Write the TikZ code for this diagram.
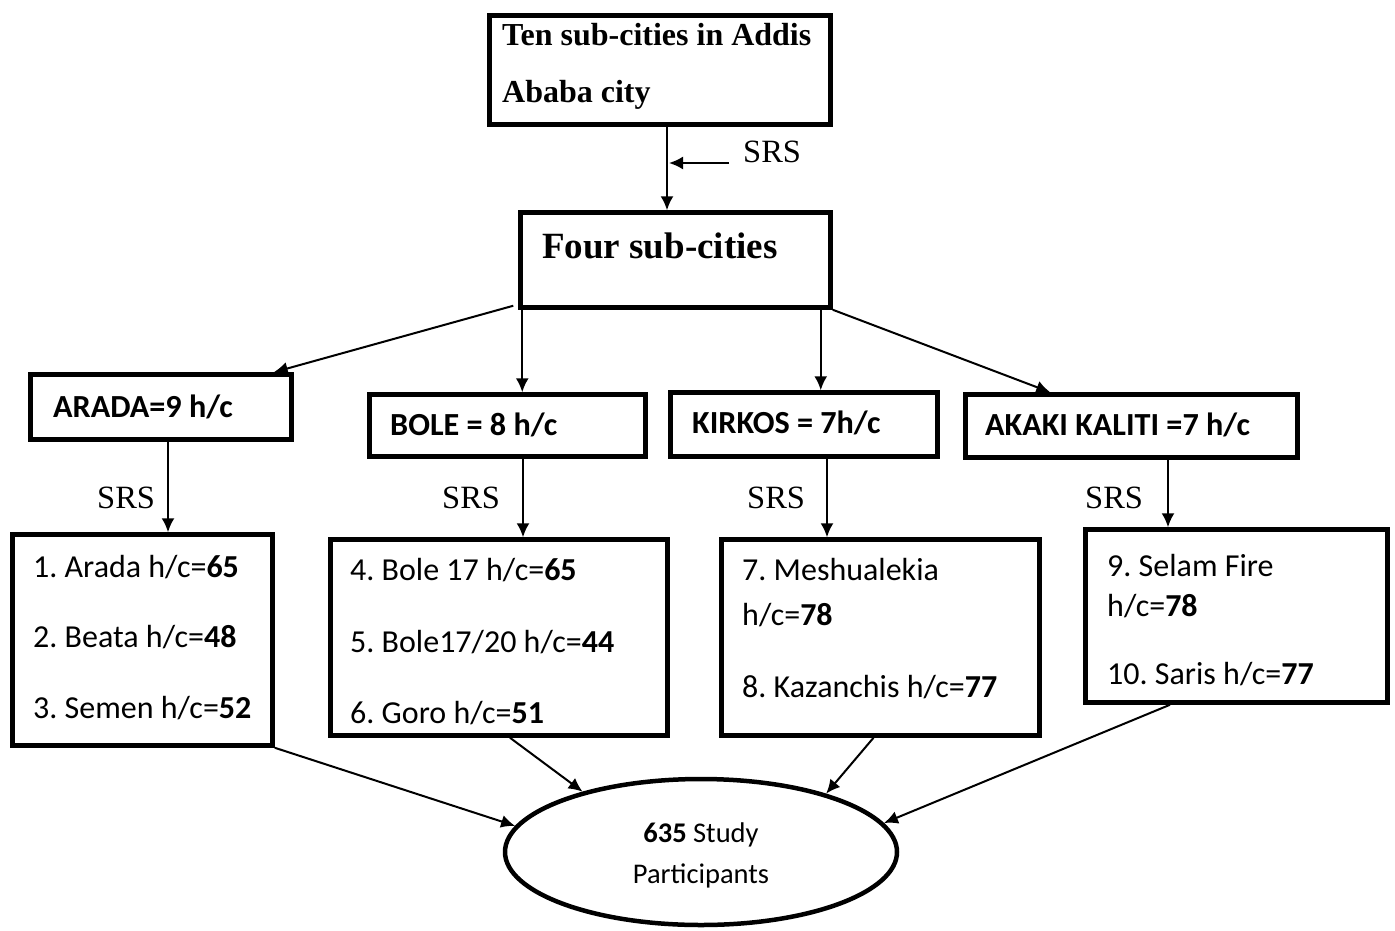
\documentclass[tikz,border=0pt]{standalone}
\usepackage{fontspec}
\setmainfont{Liberation Serif}
\newfontfamily\calfont{Carlito}
\usepackage{tikz}
\usetikzlibrary{shapes, arrows.meta}
\frenchspacing
\tikzstyle{bbox} = [rectangle, draw, line width=4.5pt, inner sep=0pt]
\tikzstyle{line} = [draw, line width=2pt, -{Latex[length=14pt,width=13pt]}]
\tikzstyle{ttext} = [anchor=base west, inner sep=0pt, font=\fontsize{32}{38}\selectfont\bfseries]
\tikzstyle{ftext} = [anchor=base west, inner sep=0pt, font=\fontsize{37}{44}\selectfont\bfseries]
\tikzstyle{srs} = [anchor=base west, inner sep=0pt, font=\fontsize{32.5}{38}\selectfont]
\tikzstyle{htext} = [anchor=base west, inner sep=0pt, font=\calfont\fontsize{32.2}{38}\selectfont\bfseries]
\tikzstyle{itext} = [anchor=base west, inner sep=0pt, font=\calfont\fontsize{32}{38}\selectfont]
\tikzstyle{etext} = [anchor=base, inner sep=0pt, font=\calfont\fontsize{28.5}{34}\selectfont]

\begin{document}
\begin{tikzpicture}[x=1pt, y=-1pt]
			\useasboundingbox (0,0) rectangle (1395,930);

			% top levels
			\node [bbox, minimum width=341, minimum height=109] (ten) at (660,70) {};
			\node [ttext] (ten1) at (502,45) {Ten sub-cities in Addis};
			\node [ttext] (ten2) at (502,102) {Ababa city};
			\node [bbox, minimum width=310, minimum height=95] (four) at (675.5,260) {};
			\node [ftext] (four1) at (542,258) {Four sub-cities};
			\node [srs] (srs0) at (743,162) {SRS};
			\coordinate (srsH) at (669,163);

			% sub-cities
			\node [bbox, minimum width=261, minimum height=65] (arada) at (161,407) {};
			\node [bbox, minimum width=276, minimum height=62] (bole) at (507.5,425.5) {};
			\node [bbox, minimum width=267, minimum height=64] (kirkos) at (804,424.5) {};
			\node [bbox, minimum width=332, minimum height=63] (akaki) at (1131.5,426) {};
			\node [htext] (arada1) at (53,417) {ARADA=9 h/c};
			\node [htext] (bole1) at (390,435) {BOLE = 8 h/c};
			\node [htext] (kirkos1) at (692,433) {KIRKOS = 7h/c};
			\node [htext] (akaki1) at (985,435) {AKAKI KALITI =7 h/c};
			\node [srs] (srs1) at (97,508) {SRS};
			\node [srs] (srs2) at (442,508) {SRS};
			\node [srs] (srs3) at (747,508) {SRS};
			\node [srs] (srs4) at (1085,508) {SRS};

			% health centres
			\node [bbox, minimum width=260, minimum height=211] (aradaL) at (142.5,640) {};
			\node [bbox, minimum width=337, minimum height=196] (boleL) at (499,637.5) {};
			\node [bbox, minimum width=318, minimum height=196] (kirkosL) at (880.5,637.5) {};
			\node [bbox, minimum width=302, minimum height=173] (akakiL) at (1236.5,616) {};
			\node [itext] (a1) at (33,577) {1. Arada h/c=\textbf{65}};
			\node [itext] (a2) at (33,647) {2. Beata h/c=\textbf{48}};
			\node [itext] (a3) at (33,718) {3. Semen h/c=\textbf{52}};
			\node [itext] (b1) at (350,580) {4. Bole 17 h/c=\textbf{65}};
			\node [itext] (b2) at (350,652) {5. Bole17/20 h/c=\textbf{44}};
			\node [itext] (b3) at (350,723) {6. Goro h/c=\textbf{51}};
			\node [itext] (k1) at (742,580) {7. Meshualekia};
			\node [itext] (k2) at (742,625) {h/c=\textbf{78}};
			\node [itext] (k3) at (742,697) {8. Kazanchis h/c=\textbf{77}};
			\node [itext] (s1) at (1107,576) {9. Selam Fire};
			\node [itext] (s2) at (1107,616) {h/c=\textbf{78}};
			\node [itext] (s3) at (1107,684) {10. Saris h/c=\textbf{77}};

			% participants
			\node [ellipse, draw, line width=4.5pt, minimum width=392, minimum height=146, inner sep=0pt] (part) at (701,852) {};
			\node [etext] (p1) at (701,842) {\textbf{635} Study};
			\node [etext] (p2) at (701,883) {Participants};

			\path [line] ([xshift=7]ten.south) -- ([xshift=-8.5]four.north);
			\path [line] ([xshift=-14,yshift=-1]srs0.base west) -- (srsH);
			\path [line] ([xshift=-5,yshift=4]four.south west) -- ([xshift=-20]arada.north east);
			\path [line] ([xshift=4]four.south west) -- ([xshift=4]four.south west |- bole.north);
			\path [line] ([xshift=-12]four.south east) -- ([xshift=-12]four.south east |- kirkos.north);
			\path [line] (four.south east) -- ([xshift=87]akaki.north west);
			\path [line] ([xshift=7]arada.south) -- ([xshift=7]arada.south |- aradaL.north);
			\path [line] ([xshift=15.5]bole.south) -- ([xshift=15.5]bole.south |- boleL.north);
			\path [line] ([xshift=23]kirkos.south) -- ([xshift=23]kirkos.south |- kirkosL.north);
			\path [line] ([xshift=36.5]akaki.south) -- ([xshift=36.5]akaki.south |- akakiL.north);
			\path [line] (aradaL.south east) -- (part.172);
			\path [line] ([xshift=11]boleL.south) -- (part.153);
			\path [line] ([xshift=-7]kirkosL.south) -- (part.25);
			\path [line] ([xshift=-66.5]akakiL.south) -- (part.9);
		\end{tikzpicture}
\end{document}
